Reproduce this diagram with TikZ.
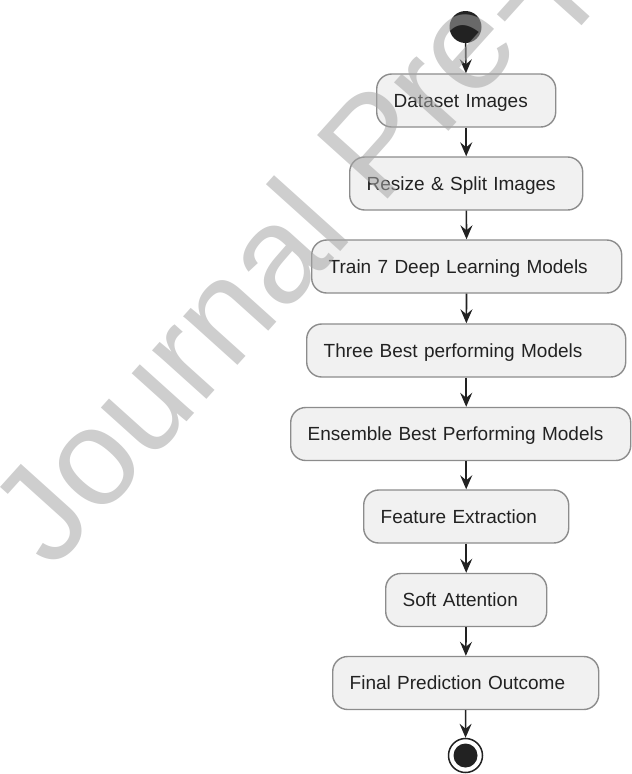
\documentclass[tikz,border=0pt]{standalone}
\usepackage{fontspec}
\setmainfont{Liberation Sans}
\usetikzlibrary{arrows.meta}

\definecolor{ink}{HTML}{222222}
\definecolor{boxfill}{HTML}{F1F1F1}
\definecolor{boxline}{HTML}{8C8C8C}
\definecolor{wmgray}{HTML}{A5A5A5}

\begin{document}
\begin{tikzpicture}[x=1pt, y=-1pt,
  activity/.style={draw=boxline, line width=1.4pt, fill=boxfill,
    rounded corners=15pt, anchor=west, minimum height=53pt,
    inner xsep=17pt, inner ysep=0pt, align=left, text=ink,
    font=\fontsize{19}{22}\selectfont, text height=13.6pt, text depth=0pt},
  flow/.style={draw=ink, line width=1.6pt,
    -{Stealth[length=14pt, width=12pt, inset=5pt]}},
  startdot/.style={circle, fill=ink, minimum size=32pt, inner sep=0pt},
  stopring/.style={circle, draw=ink, line width=1.5pt, fill=white,
    minimum size=34pt, inner sep=0pt},
  stopdot/.style={circle, fill=ink, minimum size=24pt, inner sep=0pt},
  watermark/.style={anchor=base west, rotate=48, inner sep=0pt,
    font=\fontsize{138}{138}\selectfont, text=wmgray, text opacity=0.55}]

  \useasboundingbox (0,0) rectangle (632,774);

  % initial node
  \node[startdot] (start) at (465.5,27) {};

  % activities (left edge, vertical centre)
  \node[activity, text width=145pt] (b1) at (376,100.5) {Dataset Images};
  \node[activity, text width=199pt] (b2) at (349,183.5) {Resize \& Split Images};
  \node[activity, text width=276pt] (b3) at (311,266.5) {Train 7 Deep Learning Models};
  \node[activity, text width=285pt] (b4) at (306,350.5) {Three Best performing Models};
  \node[activity, text width=306pt] (b5) at (290,434) {Ensemble Best Performing Models};
  \node[activity, text width=171pt] (b6) at (363,516.5) {Feature Extraction};
  \node[activity, text width=127pt] (b7) at (385,600) {Soft Attention};
  \node[activity, text width=232pt] (b8) at (332,683) {Final Prediction Outcome};

  % final node
  \node[stopring] (stop) at (465.5,755.5) {};
  \node[stopdot] (stopcore) at (stop) {};

  % control flow
  \draw[flow] (start) -- (b1);
  \draw[flow] (b1) -- (b2);
  \draw[flow] (b2) -- (b3);
  \draw[flow] (b3) -- (b4);
  \draw[flow] (b4) -- (b4.south |- b5.north);
  \draw[flow] (b6.north |- b5.south) -- (b6);
  \draw[flow] (b6) -- (b7);
  \draw[flow] (b7) -- (b8);
  \draw[flow] (b8) -- (stop);

  % diagonal watermark over the figure
  \begin{scope}
    \clip (0,0) rectangle (632,774);
    \node[watermark] (wm) at (52,572) {Journal Pre-p};
  \end{scope}
\end{tikzpicture}
\end{document}
